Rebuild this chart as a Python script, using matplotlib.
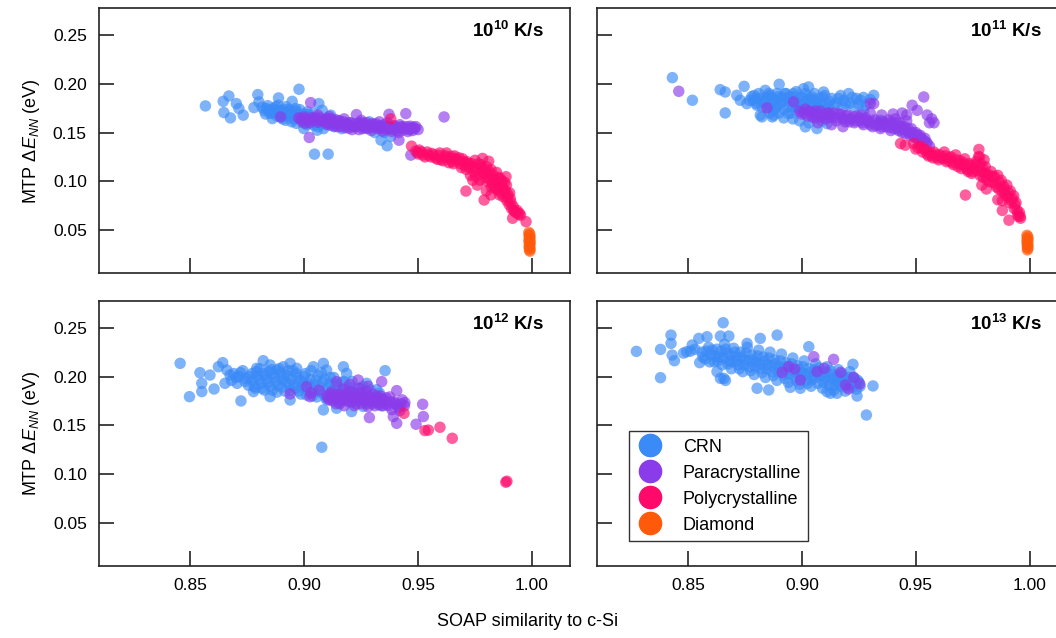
import matplotlib
matplotlib.use('Agg')
import matplotlib.pyplot as plt
from matplotlib.lines import Line2D

# SOAP similarity vs MTP energy error, one panel per quench rate
labels = ['CRN', 'Paracrystalline', 'Polycrystalline', 'Diamond']
colors = ['#3a8af7', '#8a3bea', '#ff0a6a', '#ff5a0a']
rates = ['10', '11', '12', '13']

# 10^10 K/s
crn_10 = [(0.8566,0.1773),(0.8644,0.1820),(0.8669,0.1875),(0.8647,0.1705),(0.8676,0.1650),(0.8702,0.1797),
	(0.8713,0.1746),(0.8732,0.1678),(0.8779,0.1756),(0.8796,0.1889),(0.8801,0.1814),(0.8835,0.1746),(0.8860,0.1643),
	(0.8887,0.1855),(0.8881,0.1729),(0.8903,0.1678),(0.8918,0.1626),(0.8940,0.1712),(0.8947,0.1820),(0.8977,0.1944),
	(0.8962,0.1746),(0.8991,0.1643),(0.8998,0.1541),(0.9013,0.1712),(0.9045,0.1278),(0.9105,0.1278),(0.9064,0.1797),
	(0.9079,0.1729),(0.9057,0.1524),(0.9042,0.1575),(0.9086,0.1610),(0.9116,0.1678),(0.9286,0.1610),(0.9337,0.1422),
	(0.9364,0.1364),(0.9322,0.1541),(0.8845,0.1730),(0.8858,0.1700),(0.8870,0.1720),(0.8890,0.1705),(0.8895,0.1660),
	(0.8910,0.1690),(0.8925,0.1700),(0.8930,0.1660),(0.8950,0.1680),(0.8955,0.1640),(0.8970,0.1700),(0.8985,0.1670),
	(0.9000,0.1690),(0.9005,0.1620),(0.9020,0.1660),(0.9030,0.1600),(0.9050,0.1640),(0.9070,0.1590),(0.9095,0.1580),
	(0.9120,0.1600),(0.9150,0.1620),(0.9180,0.1580),(0.9240,0.1590),(0.9260,0.1560),(0.9300,0.1580),(0.9350,0.1500),
	(0.9380,0.1460),(0.8830,0.1690),(0.8875,0.1765),(0.8915,0.1735),(0.8815,0.1760),(0.8825,0.1725),(0.8840,0.1775),
	(0.8850,0.1695),(0.8865,0.1745),(0.8880,0.1670),(0.8885,0.1780),(0.8900,0.1725),(0.8905,0.1640),(0.8920,0.1765),
	(0.8935,0.1735),(0.8945,0.1610),(0.8960,0.1720),(0.8965,0.1595),(0.8980,0.1735),(0.8995,0.1600),(0.9010,0.1580),
	(0.9015,0.1685),(0.9035,0.1640),(0.9040,0.1700),(0.9060,0.1560),(0.9085,0.1540),(0.9100,0.1650),(0.9130,0.1560),
	(0.9165,0.1540),(0.9200,0.1600),(0.9220,0.1560),(0.9280,0.1540),(0.9310,0.1500),(0.9340,0.1560)]
para_10 = [(0.9028,0.1807),(0.9022,0.1449),(0.9229,0.1684),(0.9372,0.1687),(0.9446,0.1694),(0.9614,0.1660),
	(0.9416,0.1421),(0.9468,0.1268),(0.9497,0.1295),(0.8896,0.1660),(0.9133,0.1568),(0.9480,0.1555),(0.9430,0.1560),
	(0.8975,0.1650),(0.8990,0.1615),(0.9000,0.1660),(0.9010,0.1640),(0.9025,0.1600),(0.9035,0.1655),(0.9045,0.1625),
	(0.9060,0.1605),(0.9070,0.1650),(0.9080,0.1620),(0.9095,0.1600),(0.9105,0.1640),(0.9115,0.1575),(0.9125,0.1615),
	(0.9140,0.1630),(0.9150,0.1590),(0.9160,0.1560),(0.9170,0.1610),(0.9185,0.1580),(0.9195,0.1545),(0.9205,0.1600),
	(0.9215,0.1560),(0.9225,0.1590),(0.9240,0.1530),(0.9250,0.1570),(0.9260,0.1600),(0.9270,0.1545),(0.9285,0.1575),
	(0.9295,0.1520),(0.9305,0.1560),(0.9315,0.1590),(0.9325,0.1540),(0.9335,0.1570),(0.9345,0.1515),(0.9355,0.1555),
	(0.9365,0.1600),(0.9375,0.1540),(0.9385,0.1510),(0.9395,0.1570),(0.9405,0.1540),(0.9415,0.1500),(0.9425,0.1555),
	(0.9435,0.1525),(0.9450,0.1560),(0.9460,0.1530),(0.9470,0.1545),(0.9485,0.1540),(0.9500,0.1530),(0.9175,0.1640),
	(0.9110,0.1665),(0.9060,0.1680),(0.9330,0.1610),(0.9250,0.1625),(0.8985,0.1640),(0.9005,0.1595),(0.9020,0.1630),
	(0.9050,0.1650),(0.9065,0.1625),(0.9090,0.1630),(0.9100,0.1585),(0.9120,0.1640),(0.9135,0.1600),(0.9145,0.1560),
	(0.9155,0.1620),(0.9165,0.1590),(0.9180,0.1550),(0.9190,0.1600),(0.9200,0.1570),(0.9210,0.1530),(0.9230,0.1565),
	(0.9245,0.1600),(0.9255,0.1540),(0.9265,0.1575),(0.9275,0.1600),(0.9290,0.1550),(0.9300,0.1590),(0.9320,0.1565),
	(0.9340,0.1545),(0.9350,0.1580),(0.9360,0.1530),(0.9370,0.1570),(0.9380,0.1550),(0.9390,0.1530),(0.9400,0.1560),
	(0.9410,0.1520),(0.9420,0.1580),(0.9440,0.1545),(0.9455,0.1510),(0.9465,0.1565),(0.9475,0.1520),(0.9490,0.1560)]
poly_10 = [(0.9380,0.1640),(0.9471,0.1360),(0.9490,0.1310),(0.9500,0.1280),(0.9515,0.1300),(0.9530,0.1250),
	(0.9545,0.1270),(0.9560,0.1285),(0.9575,0.1240),(0.9590,0.1265),(0.9600,0.1220),(0.9615,0.1250),(0.9625,0.1290),
	(0.9640,0.1235),(0.9650,0.1200),(0.9660,0.1260),(0.9672,0.1215),(0.9685,0.1180),(0.9695,0.1230),(0.9705,0.1160),
	(0.9710,0.0899),(0.9715,0.1200),(0.9725,0.1140),(0.9735,0.1180),(0.9745,0.1100),(0.9750,0.1215),(0.9760,0.1130),
	(0.9770,0.1070),(0.9775,0.1170),(0.9783,0.1234),(0.9785,0.1100),(0.9790,0.0807),(0.9795,0.1040),(0.9800,0.1150),
	(0.9805,0.1085),(0.9810,0.1205),(0.9815,0.1020),(0.9820,0.1120),(0.9825,0.0980),(0.9830,0.1060),(0.9835,0.0940),
	(0.9840,0.1000),(0.9845,0.1090),(0.9850,0.0910),(0.9855,0.0970),(0.9860,0.1030),(0.9865,0.0880),(0.9870,0.0940),
	(0.9875,0.0840),(0.9880,0.0990),(0.9886,0.1046),(0.9885,0.0900),(0.9890,0.0800),(0.9895,0.0860),(0.9900,0.0760),
	(0.9905,0.0820),(0.9910,0.0720),(0.9915,0.0620),(0.9920,0.0700),(0.9930,0.0680),(0.9940,0.0660),(0.9950,0.0650),
	(0.9974,0.0585),(0.9760,0.0960),(0.9740,0.1010),(0.9800,0.0900),(0.9820,0.0860),(0.9505,0.1320),(0.9520,0.1270),
	(0.9540,0.1300),(0.9555,0.1250),(0.9570,0.1270),(0.9585,0.1225),(0.9595,0.1290),(0.9610,0.1210),(0.9620,0.1260),
	(0.9635,0.1190),(0.9645,0.1255),(0.9655,0.1180),(0.9665,0.1230),(0.9680,0.1240),(0.9690,0.1140),(0.9700,0.1200),
	(0.9712,0.1120),(0.9720,0.1180),(0.9730,0.1060),(0.9740,0.1150),(0.9752,0.1050),(0.9765,0.1180),(0.9772,0.1010),
	(0.9780,0.1140),(0.9792,0.1080),(0.9802,0.1000),(0.9812,0.1100),(0.9822,0.0940),(0.9832,0.1020),(0.9842,0.0920),
	(0.9852,0.1040),(0.9858,0.0860),(0.9868,0.1000),(0.9878,0.0900),(0.9888,0.0960),(0.9892,0.0830),(0.9902,0.0880),
	(0.9908,0.0780),(0.9918,0.0740),(0.9925,0.0690),(0.9935,0.0700),(0.9945,0.0670)]
diam_10 = [(0.9986,0.0475),(0.9990,0.0460),(0.9987,0.0445),(0.9992,0.0430),(0.9988,0.0415),(0.9991,0.0400),
	(0.9986,0.0385),(0.9993,0.0370),(0.9989,0.0355),(0.9990,0.0340),(0.9987,0.0325),(0.9992,0.0310),(0.9989,0.0295),
	(0.9991,0.0282)]

# 10^11 K/s
crn_11 = [(0.8431,0.2063),(0.8519,0.1831),(0.8641,0.1940),(0.8663,0.1916),(0.8663,0.1701),(0.8714,0.1882),
	(0.8729,0.1831),(0.8746,0.1974),(0.8758,0.1797),(0.8787,0.1831),(0.8802,0.1780),(0.8824,0.1660),(0.8839,0.1933),
	(0.8846,0.1865),(0.8868,0.1797),(0.8875,0.1729),(0.8890,0.1900),(0.8900,0.1995),(0.8905,0.1797),(0.8934,0.1848),
	(0.8941,0.1695),(0.8963,0.1900),(0.8978,0.1763),(0.9007,0.1950),(0.9022,0.1831),(0.9029,0.1968),(0.9044,0.1865),
	(0.9066,0.1814),(0.9095,0.1916),(0.9110,0.1797),(0.9015,0.1558),(0.9066,0.1541),(0.9110,0.1592),(0.9183,0.1831),
	(0.9205,0.1900),(0.9227,0.1763),(0.9257,0.1831),(0.9271,0.1729),(0.9315,0.1882),(0.9345,0.1626),(0.8817,0.1678),
	(0.8875,0.1678),(0.8780,0.1870),(0.8800,0.1850),(0.8810,0.1900),(0.8830,0.1810),(0.8850,0.1760),(0.8860,0.1880),
	(0.8880,0.1830),(0.8890,0.1780),(0.8910,0.1860),(0.8920,0.1740),(0.8930,0.1900),(0.8950,0.1820),(0.8960,0.1760),
	(0.8970,0.1870),(0.8990,0.1800),(0.9000,0.1730),(0.9010,0.1850),(0.9030,0.1780),(0.9050,0.1830),(0.9070,0.1760),
	(0.9090,0.1860),(0.9100,0.1740),(0.9120,0.1820),(0.9140,0.1780),(0.9160,0.1850),(0.9180,0.1760),(0.9210,0.1800),
	(0.9240,0.1850),(0.9280,0.1780),(0.9300,0.1840),(0.8920,0.1650),(0.8960,0.1640),(0.8990,0.1620),(0.8870,0.1660),
	(0.8770,0.1830),(0.8790,0.1880),(0.8800,0.1800),(0.8815,0.1850),(0.8825,0.1760),(0.8840,0.1820),(0.8855,0.1900),
	(0.8858,0.1700),(0.8870,0.1850),(0.8885,0.1750),(0.8895,0.1870),(0.8900,0.1700),(0.8915,0.1820),(0.8925,0.1900),
	(0.8940,0.1760),(0.8945,0.1870),(0.8955,0.1700),(0.8965,0.1830),(0.8975,0.1920),(0.8985,0.1750),(0.8995,0.1860),
	(0.9005,0.1800),(0.9015,0.1900),(0.9025,0.1740),(0.9035,0.1850),(0.9045,0.1780),(0.9055,0.1900),(0.9065,0.1740),
	(0.9075,0.1850),(0.9085,0.1800),(0.9100,0.1880),(0.9115,0.1760),(0.9130,0.1850),(0.9150,0.1800),(0.9170,0.1880),
	(0.9190,0.1800),(0.9220,0.1860),(0.9250,0.1790),(0.9270,0.1860),(0.9050,0.1650),(0.9030,0.1600),(0.9090,0.1620),
	(0.9120,0.1680)]
para_11 = [(0.8459,0.1923),(0.8846,0.1752),(0.8963,0.1814),(0.9535,0.1865),(0.9484,0.1780),(0.9506,0.1728),
	(0.9550,0.1680),(0.9570,0.1640),(0.9580,0.1600),(0.9560,0.1600),(0.9315,0.1797),(0.9300,0.1800),(0.9440,0.1700),
	(0.9460,0.1680),(0.8990,0.1720),(0.9000,0.1690),(0.9015,0.1740),(0.9025,0.1670),(0.9040,0.1710),(0.9055,0.1690),
	(0.9065,0.1650),(0.9080,0.1720),(0.9095,0.1680),(0.9105,0.1640),(0.9120,0.1700),(0.9135,0.1660),(0.9150,0.1620),
	(0.9160,0.1690),(0.9175,0.1650),(0.9190,0.1610),(0.9200,0.1680),(0.9215,0.1640),(0.9230,0.1600),(0.9240,0.1670),
	(0.9255,0.1620),(0.9270,0.1580),(0.9280,0.1650),(0.9295,0.1600),(0.9310,0.1560),(0.9320,0.1630),(0.9335,0.1580),
	(0.9345,0.1540),(0.9355,0.1610),(0.9370,0.1560),(0.9380,0.1630),(0.9390,0.1520),(0.9400,0.1580),(0.9410,0.1640),
	(0.9420,0.1540),(0.9430,0.1600),(0.9440,0.1500),(0.9450,0.1560),(0.9460,0.1620),(0.9470,0.1500),(0.9480,0.1540),
	(0.9490,0.1460),(0.9500,0.1500),(0.9510,0.1430),(0.9520,0.1470),(0.9535,0.1420),(0.9550,0.1390),(0.9560,0.1360),
	(0.9070,0.1600),(0.9130,0.1580),(0.9180,0.1560),(0.9260,0.1680),(0.9300,0.1700),(0.9350,0.1680),(0.9400,0.1690),
	(0.9010,0.1700),(0.9030,0.1720),(0.9045,0.1660),(0.9060,0.1720),(0.9075,0.1680),(0.9090,0.1650),(0.9110,0.1700),
	(0.9125,0.1660),(0.9140,0.1700),(0.9155,0.1650),(0.9170,0.1690),(0.9185,0.1640),(0.9195,0.1670),(0.9210,0.1610),
	(0.9225,0.1660),(0.9235,0.1620),(0.9250,0.1650),(0.9265,0.1600),(0.9275,0.1630),(0.9290,0.1620),(0.9300,0.1580),
	(0.9315,0.1610),(0.9325,0.1570),(0.9340,0.1600),(0.9350,0.1560),(0.9360,0.1590),(0.9375,0.1600),(0.9385,0.1550),
	(0.9395,0.1600),(0.9405,0.1540),(0.9415,0.1600),(0.9425,0.1520),(0.9435,0.1560),(0.9445,0.1530),(0.9455,0.1490),
	(0.9465,0.1540),(0.9475,0.1470),(0.9485,0.1500),(0.9495,0.1450),(0.9505,0.1480),(0.9515,0.1460),(0.9525,0.1430),
	(0.9540,0.1440),(0.9545,0.1400)]
poly_11 = [(0.9433,0.1387),(0.9454,0.1370),(0.9491,0.1387),(0.9500,0.1330),(0.9520,0.1360),(0.9530,0.1300),
	(0.9545,0.1320),(0.9555,0.1260),(0.9565,0.1290),(0.9575,0.1240),(0.9590,0.1270),(0.9600,0.1220),(0.9615,0.1250),
	(0.9625,0.1300),(0.9635,0.1200),(0.9650,0.1240),(0.9660,0.1190),(0.9675,0.1270),(0.9685,0.1150),(0.9695,0.1210),
	(0.9705,0.1170),(0.9715,0.1230),(0.9718,0.0858),(0.9725,0.1120),(0.9735,0.1180),(0.9745,0.1080),(0.9755,0.1140),
	(0.9765,0.1200),(0.9777,0.1326),(0.9780,0.1250),(0.9785,0.1180),(0.9790,0.1100),(0.9795,0.1040),(0.9800,0.1220),
	(0.9805,0.1150),(0.9815,0.1070),(0.9820,0.1000),(0.9830,0.1100),(0.9840,0.1040),(0.9850,0.0970),(0.9860,0.1060),
	(0.9865,0.0920),(0.9875,0.1010),(0.9885,0.0950),(0.9890,0.0880),(0.9900,0.0960),(0.9905,0.0840),(0.9915,0.0900),
	(0.9920,0.0800),(0.9930,0.0850),(0.9935,0.0760),(0.9945,0.0700),(0.9950,0.0640),(0.9955,0.0680),(0.9960,0.0620),
	(0.9880,0.0800),(0.9860,0.0810),(0.9790,0.0960),(0.9810,0.0920),(0.9880,0.0700),(0.9909,0.0600),(0.9510,0.1345),
	(0.9535,0.1330),(0.9550,0.1280),(0.9570,0.1260),(0.9580,0.1300),(0.9595,0.1240),(0.9605,0.1270),(0.9620,0.1230),
	(0.9630,0.1260),(0.9645,0.1210),(0.9655,0.1250),(0.9665,0.1170),(0.9680,0.1220),(0.9690,0.1180),(0.9700,0.1130),
	(0.9710,0.1190),(0.9720,0.1150),(0.9730,0.1100),(0.9740,0.1160),(0.9750,0.1100),(0.9760,0.1170),(0.9770,0.1110),
	(0.9775,0.1250),(0.9782,0.1060),(0.9792,0.1140),(0.9802,0.1080),(0.9810,0.1020),(0.9825,0.1060),(0.9835,0.0990),
	(0.9845,0.1050),(0.9855,0.0940),(0.9868,0.0990),(0.9878,0.0900),(0.9888,0.0920),(0.9895,0.0850),(0.9908,0.0880),
	(0.9912,0.0780),(0.9925,0.0820),(0.9932,0.0720),(0.9940,0.0780),(0.9948,0.0660),(0.9958,0.0640)]
diam_11 = [(0.9988,0.0445),(0.9992,0.0430),(0.9989,0.0415),(0.9993,0.0400),(0.9988,0.0385),(0.9991,0.0370),
	(0.9989,0.0355),(0.9993,0.0340),(0.9990,0.0325),(0.9992,0.0310),(0.9990,0.0295)]

# 10^12 K/s
crn_12 = [(0.8455,0.2135),(0.8496,0.1793),(0.8542,0.2039),(0.8550,0.1930),(0.8550,0.1845),(0.8604,0.1872),
	(0.8722,0.1749),(0.9077,0.1274),(0.9355,0.2060),(0.8586,0.2015),(0.8623,0.2100),(0.8642,0.2142),(0.8660,0.2067),
	(0.8674,0.2015),(0.8652,0.1930),(0.8820,0.2162),(0.8791,0.2084),(0.8850,0.2118),(0.8879,0.2067),(0.8908,0.2100),
	(0.8938,0.2135),(0.8967,0.2084),(0.9040,0.2100),(0.9084,0.2135),(0.9098,0.2067),(0.9172,0.2100),(0.9186,0.2032),
	(0.9259,0.1896),(0.9274,0.1930),(0.9318,0.1864),(0.9084,0.1657),(0.9142,0.1674),(0.9208,0.1640),(0.9259,0.1693),
	(0.8938,0.1759),(0.8850,0.1793),(0.8777,0.1845),(0.8700,0.1990),(0.8720,0.2040),(0.8740,0.1950),(0.8760,0.2000),
	(0.8780,0.1900),(0.8790,0.2050),(0.8800,0.1970),(0.8815,0.1880),(0.8830,0.2010),(0.8840,0.1940),(0.8855,0.2070),
	(0.8860,0.1860),(0.8870,0.1990),(0.8885,0.1910),(0.8895,0.2040),(0.8905,0.1960),(0.8915,0.1850),(0.8925,0.2010),
	(0.8935,0.1920),(0.8950,0.2060),(0.8960,0.1880),(0.8970,0.1990),(0.8985,0.1820),(0.8995,0.1940),(0.9005,0.2030),
	(0.9015,0.1860),(0.9025,0.1970),(0.9035,0.1800),(0.9045,0.1910),(0.9060,0.2010),(0.9070,0.1840),(0.9080,0.1940),
	(0.9095,0.1780),(0.9105,0.1880),(0.9115,0.1990),(0.9125,0.1820),(0.9135,0.1920),(0.9150,0.1760),(0.9160,0.1860),
	(0.9175,0.1950),(0.9185,0.1800),(0.9200,0.1890),(0.9215,0.1740),(0.9225,0.1840),(0.9240,0.1760),(0.9255,0.1820),
	(0.9270,0.1740),(0.9285,0.1800),(0.9300,0.1720),(0.9320,0.1780),(0.9340,0.1700),(0.8680,0.1960),(0.8690,0.2030),
	(0.8705,0.1930),(0.8715,0.2000),(0.8730,0.2060),(0.8745,0.1980),(0.8755,0.1910),(0.8770,0.2030),(0.8775,0.1960),
	(0.8785,0.1880),(0.8795,0.2000),(0.8805,0.2080),(0.8810,0.1930),(0.8820,0.2030),(0.8825,0.1860),(0.8835,0.1970),
	(0.8845,0.2050),(0.8850,0.1900),(0.8865,0.2020),(0.8875,0.1950),(0.8880,0.1840),(0.8890,0.2080),(0.8900,0.1890),
	(0.8910,0.2000),(0.8920,0.1940),(0.8930,0.2060),(0.8940,0.1860),(0.8945,0.1970),(0.8955,0.1910),(0.8965,0.2030),
	(0.8975,0.1850),(0.8980,0.1960),(0.8990,0.1890),(0.9000,0.2000),(0.9010,0.1810),(0.9020,0.1920),(0.9030,0.2060),
	(0.9040,0.1850),(0.9050,0.1960),(0.9055,0.1790),(0.9065,0.1900),(0.9075,0.2040),(0.9085,0.1820),(0.9090,0.1970),
	(0.9100,0.1760),(0.9110,0.1920),(0.9120,0.1860),(0.9130,0.1990),(0.9140,0.1800),(0.9145,0.1900),(0.9155,0.1720),
	(0.9165,0.1940),(0.9170,0.1820),(0.9180,0.1880),(0.9195,0.1760),(0.9205,0.1840),(0.9210,0.1950),(0.9230,0.1800),
	(0.9245,0.1880),(0.9260,0.1780),(0.9290,0.1860),(0.9310,0.1760),(0.9330,0.1830)]
para_12 = [(0.8938,0.1821),(0.9010,0.1896),(0.9025,0.1793),(0.9142,0.1947),(0.9237,0.1964),(0.9340,0.1947),
	(0.9406,0.1855),(0.9442,0.1732),(0.9520,0.1715),(0.9523,0.1589),(0.9491,0.1510),(0.9391,0.1589),(0.9406,0.1520),
	(0.9286,0.1578),(0.9100,0.1800),(0.9110,0.1760),(0.9120,0.1840),(0.9130,0.1780),(0.9140,0.1720),(0.9150,0.1820),
	(0.9160,0.1760),(0.9170,0.1870),(0.9175,0.1700),(0.9185,0.1800),(0.9195,0.1740),(0.9200,0.1850),(0.9210,0.1780),
	(0.9220,0.1700),(0.9225,0.1820),(0.9235,0.1760),(0.9240,0.1880),(0.9250,0.1720),(0.9255,0.1800),(0.9265,0.1750),
	(0.9270,0.1850),(0.9280,0.1690),(0.9285,0.1790),(0.9295,0.1740),(0.9300,0.1820),(0.9310,0.1700),(0.9315,0.1770),
	(0.9325,0.1730),(0.9335,0.1800),(0.9345,0.1700),(0.9355,0.1750),(0.9365,0.1720),(0.9375,0.1790),(0.9385,0.1660),
	(0.9395,0.1740),(0.9410,0.1700),(0.9420,0.1650),(0.9430,0.1760),(0.9440,0.1700),(0.9065,0.1860),(0.9030,0.1830),
	(0.9200,0.1920),(0.9280,0.1900),(0.9105,0.1780),(0.9115,0.1820),(0.9125,0.1750),(0.9135,0.1810),(0.9145,0.1770),
	(0.9155,0.1730),(0.9165,0.1800),(0.9180,0.1760),(0.9190,0.1830),(0.9205,0.1740),(0.9215,0.1800),(0.9230,0.1720),
	(0.9240,0.1790),(0.9245,0.1840),(0.9260,0.1770),(0.9275,0.1720),(0.9290,0.1770),(0.9305,0.1740),(0.9320,0.1800),
	(0.9330,0.1710),(0.9340,0.1770),(0.9350,0.1730),(0.9360,0.1780),(0.9370,0.1700),(0.9380,0.1740),(0.9400,0.1720),
	(0.9415,0.1680),(0.9425,0.1720)]
poly_12 = [(0.9438,0.1622),(0.9530,0.1445),(0.9545,0.1450),(0.9596,0.1479),(0.9650,0.1366),(0.9885,0.0915),
	(0.9890,0.0925)]
diam_12 = []

# 10^13 K/s
crn_13 = [(0.8273,0.2258),(0.8379,0.1988),(0.8379,0.2278),(0.8425,0.2425),(0.8425,0.2340),(0.8430,0.2220),
	(0.8440,0.2162),(0.8493,0.2254),(0.8518,0.2323),(0.8547,0.2391),(0.8583,0.2408),(0.8654,0.2552),(0.8642,0.2415),
	(0.8679,0.2415),(0.8551,0.2142),(0.8759,0.2340),(0.8817,0.2391),(0.8891,0.2425),(0.9030,0.2306),(0.9224,0.2125),
	(0.9312,0.1903),(0.9242,0.1800),(0.9283,0.1605),(0.9125,0.1828),(0.8642,0.1981),(0.8664,0.1960),(0.8803,0.1879),
	(0.8854,0.1862),(0.8949,0.1889),(0.8993,0.1879),(0.9110,0.1845),(0.9154,0.1828),(0.8627,0.2050),(0.8657,0.1980),
	(0.8510,0.2260),(0.8530,0.2280),(0.8480,0.2240),(0.8560,0.2250),(0.8575,0.2180),(0.8590,0.2300),(0.8600,0.2220),
	(0.8615,0.2150),(0.8625,0.2280),(0.8635,0.2200),(0.8650,0.2120),(0.8660,0.2330),(0.8670,0.2240),(0.8680,0.2160),
	(0.8690,0.2080),(0.8700,0.2290),(0.8710,0.2200),(0.8720,0.2120),(0.8730,0.2250),(0.8740,0.2050),(0.8750,0.2170),
	(0.8760,0.2300),(0.8770,0.2100),(0.8780,0.2220),(0.8790,0.2020),(0.8800,0.2150),(0.8810,0.2270),(0.8820,0.2080),
	(0.8830,0.2200),(0.8840,0.1990),(0.8850,0.2120),(0.8860,0.2250),(0.8870,0.2050),(0.8880,0.2170),(0.8890,0.1960),
	(0.8900,0.2100),(0.8910,0.2230),(0.8920,0.2020),(0.8930,0.2140),(0.8940,0.1940),(0.8950,0.2070),(0.8960,0.2190),
	(0.8970,0.1990),(0.8980,0.2110),(0.8990,0.1920),(0.9000,0.2040),(0.9010,0.2160),(0.9020,0.1960),(0.9030,0.2080),
	(0.9040,0.1900),(0.9050,0.2010),(0.9060,0.2130),(0.9070,0.1930),(0.9080,0.2050),(0.9090,0.1880),(0.9100,0.1990),
	(0.9110,0.2100),(0.9120,0.1910),(0.9130,0.2020),(0.9140,0.1860),(0.9150,0.1960),(0.9160,0.2070),(0.9170,0.1900),
	(0.9180,0.2000),(0.9190,0.1850),(0.9200,0.1950),(0.9210,0.2050),(0.9220,0.1890),(0.9230,0.1980),(0.9240,0.1870),
	(0.9250,0.1940),(0.8565,0.2200),(0.8580,0.2260),(0.8595,0.2150),(0.8605,0.2270),(0.8620,0.2210),(0.8630,0.2160),
	(0.8645,0.2260),(0.8655,0.2190),(0.8665,0.2280),(0.8675,0.2130),(0.8685,0.2220),(0.8695,0.2150),(0.8705,0.2250),
	(0.8715,0.2160),(0.8725,0.2080),(0.8735,0.2200),(0.8745,0.2120),(0.8755,0.2240),(0.8765,0.2160),(0.8775,0.2060),
	(0.8785,0.2170),(0.8795,0.2100),(0.8805,0.2210),(0.8815,0.2130),(0.8825,0.2040),(0.8835,0.2160),(0.8845,0.2080),
	(0.8855,0.2190),(0.8865,0.2110),(0.8875,0.2010),(0.8885,0.2130),(0.8895,0.2050),(0.8905,0.2160),(0.8915,0.2080),
	(0.8925,0.1980),(0.8935,0.2100),(0.8945,0.2030),(0.8955,0.2130),(0.8965,0.2050),(0.8975,0.1960),(0.8985,0.2070),
	(0.8995,0.2000),(0.9005,0.2100),(0.9015,0.2020),(0.9025,0.1930),(0.9035,0.2040),(0.9045,0.1970),(0.9055,0.2070),
	(0.9065,0.1990),(0.9075,0.2090),(0.9085,0.2010),(0.9095,0.1940),(0.9105,0.2040),(0.9115,0.1960),(0.9125,0.2060),
	(0.9135,0.1980),(0.9145,0.1910),(0.9155,0.2010),(0.9165,0.1940),(0.9175,0.2030),(0.9185,0.1960),(0.9195,0.1890),
	(0.9205,0.1990),(0.9215,0.1920),(0.9225,0.1990),(0.9235,0.1920),(0.9245,0.1960),(0.9255,0.1900)]
para_13 = [(0.8913,0.2043),(0.8942,0.2101),(0.8968,0.2077),(0.8993,0.1964),(0.9052,0.2203),(0.9066,0.2050),
	(0.9098,0.2084),(0.9139,0.2176),(0.9170,0.2043),(0.9191,0.1913),(0.9205,0.1872),(0.9227,0.1991),(0.9254,0.1923)]
poly_13 = []
diam_13 = []

panels = [
	[crn_10, para_10, poly_10, diam_10],
	[crn_11, para_11, poly_11, diam_11],
	[crn_12, para_12, poly_12, diam_12],
	[crn_13, para_13, poly_13, diam_13],
]

plt.rcParams['font.family'] = 'Liberation Sans'
plt.rcParams['mathtext.fontset'] = 'custom'
plt.rcParams['mathtext.rm'] = 'Liberation Sans'
plt.rcParams['mathtext.it'] = 'Liberation Sans:italic'
plt.rcParams['mathtext.bf'] = 'Liberation Sans:bold'

fig = plt.figure(figsize=(10.56, 6.38), dpi=100)

# axes boxes in figure fractions; the right column runs a little past the edge
W, H = 1056.0, 638.0
lefts = [99.3 / W, 597.0 / W]
bottoms = [1 - 273.3 / H, 1 - 566.0 / H]
aw = 470.7 / W
ah = 265.0 / H

for i, groups in enumerate(panels):
	row, col = divmod(i, 2)
	ax = fig.add_axes([lefts[col], bottoms[row], aw, ah])
	for pts, c in zip(groups, colors):
		if not pts:
			continue
		xs = [p[0] for p in pts]
		ys = [p[1] for p in pts]
		ax.scatter(xs, ys, s=68, color=c, alpha=0.65, edgecolors='none')

	ax.set_xlim(0.81, 1.0167)
	ax.set_ylim(0.0055, 0.2775)
	ax.set_xticks([0.85, 0.90, 0.95, 1.00])
	ax.set_yticks([0.05, 0.10, 0.15, 0.20, 0.25])
	ax.xaxis.set_major_formatter(matplotlib.ticker.FormatStrFormatter('%.2f'))
	ax.yaxis.set_major_formatter(matplotlib.ticker.FormatStrFormatter('%.2f'))
	ax.tick_params(direction='in', length=10.5, width=1.2, labelsize=12.5, color='#222222')
	ax.tick_params(axis='x', pad=9)
	ax.tick_params(axis='y', pad=9)
	for s in ax.spines.values():
		s.set_linewidth(1.2)
		s.set_color('#222222')
	if row == 0:
		ax.tick_params(labelbottom=False)
	if col == 1:
		ax.tick_params(labelleft=False)
	else:
		ax.set_ylabel(r'MTP $\Delta E_{NN}$ (eV)', fontsize=13, labelpad=8)

	ax.text(0.945, 0.915, r'10$^{\mathbf{' + rates[i] + r'}}$ K/s', transform=ax.transAxes,
		ha='right', va='center', fontsize=13.5, fontweight='bold')

	if i == 3:
		handles = [Line2D([], [], marker='o', linestyle='', markersize=16, color=c) for c in colors]
		leg = ax.legend(handles, labels, loc='lower left', bbox_to_anchor=(0.067, 0.095), borderaxespad=0,
			fontsize=13, fancybox=False, framealpha=1, edgecolor='#333333', labelspacing=0.5,
			handletextpad=1.0, borderpad=0.4, handlelength=1.6)
		leg.get_frame().set_linewidth(1.0)

fig.text(0.5, 1 - 622 / H, 'SOAP similarity to c-Si', ha='center', va='center', fontsize=13)

plt.savefig('out.png', dpi=100)
